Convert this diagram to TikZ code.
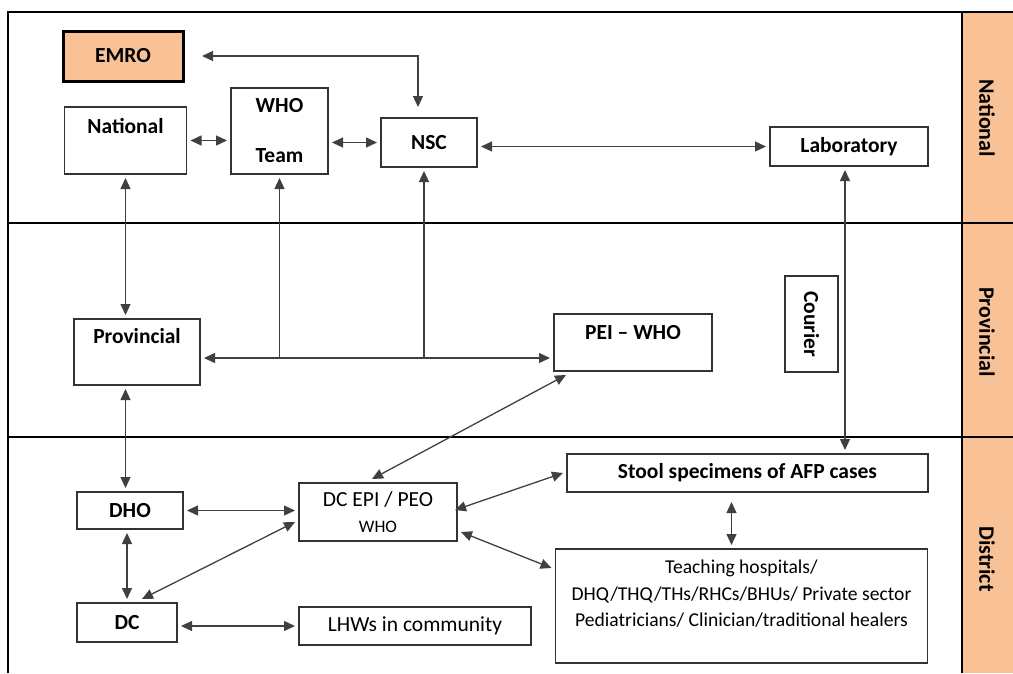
\documentclass[tikz,border=0pt]{standalone}
\usepackage{fontspec}
\setmainfont{Carlito}
\usepackage{xcolor}
\usetikzlibrary{arrows.meta, positioning, calc}
\definecolor{bandorange}{RGB}{248,193,150}

\begin{document}
\begin{tikzpicture}[
    x=1pt, y=-1pt,
    every node/.style={font=\fontsize{21.5}{25}\selectfont},
    box/.style={rectangle, draw=black!80, line width=1.1pt, inner sep=0pt, outer sep=4pt, align=center},
    bold/.style={font=\fontsize{21.5}{25}\selectfont\bfseries},
    sidelabel/.style={rotate=-90, font=\fontsize{22}{26}\selectfont\bfseries},
    arrow/.style={{Triangle[length=11pt,width=10pt]}-{Triangle[length=11pt,width=10pt]}, line width=1.3pt, draw=black!75},
    uparrow/.style={-{Triangle[length=11pt,width=10pt]}, line width=1.3pt, draw=black!75}
  ]
  \useasboundingbox (0,0) rectangle (1013,673);

  % level band on the right
  \fill[bandorange] (962,12) rectangle (1013,673);
  \draw[line width=1.1pt] (8,673) -- (8,12) -- (1013,12);
  \draw[line width=2pt] (8,223) -- (1013,223);
  \draw[line width=1.2pt] (8,437) -- (962,437);
  \draw[line width=2pt] (962,437) -- (1013,437);
  \draw[line width=2.2pt] (962,12) -- (962,673);
  \node[sidelabel] (lvlnat)  at (987,118) {National};
  \node[sidelabel] (lvlprov) at (987,332) {Provincial};
  \node[sidelabel] (lvldist) at (987,559) {District};

  % national level
  \node[box, bold, fill=bandorange, draw=black, line width=3pt, minimum width=120, minimum height=50] (emro) at (123,56) {EMRO};
  \node[box, bold, minimum width=122, minimum height=67, text height=26pt, text depth=41pt] (nat) at (125.5,140.5) {National};
  \node[box, bold, minimum width=97, minimum height=86] (who) at (279.5,131) {WHO\\[25pt]Team};
  \node[box, bold, minimum width=96, minimum height=49] (nsc) at (429,142.5) {NSC};
  \node[box, bold, minimum width=158, minimum height=39] (lab) at (849,146.5) {Laboratory};

  % provincial level
  \node[box, bold, minimum width=126, minimum height=66, text height=24pt, text depth=42pt] (prov) at (137,352) {Provincial};
  \node[box, bold, minimum width=158, minimum height=57, text height=25pt, text depth=32pt] (pei) at (633,342.5) {PEI -- WHO};
  \node[box, bold, rotate=-90, minimum width=96, minimum height=53] (courier) at (811.5,324) {Courier};

  % district level
  \node[box, bold, minimum width=106, minimum height=37] (dho) at (130,510.5) {DHO};
  \node[box, minimum width=158, minimum height=58] (dcepi) at (378,512) {DC EPI / PEO\\[1pt]{\fontsize{17.5}{20}\selectfont WHO}};
  \node[box, bold, minimum width=100, minimum height=39] (dc) at (127,622.5) {DC};
  \node[box, minimum width=232, minimum height=38] (lhw) at (415,626) {LHWs in community};
  \node[box, bold, minimum width=361, minimum height=38] (stool) at (747.5,473) {Stool specimens of AFP cases};
  \node[box, minimum width=372, minimum height=114] (teach) at (741.5,606) {};
  \node[anchor=north, align=center, inner sep=0pt, font=\fontsize{19.6}{26.5}\selectfont] (teachtxt) at ([yshift=-15pt]teach.north)
    {Teaching hospitals/\\DHQ/THQ/THs/RHCs/BHUs/ Private sector\\Pediatricians/ Clinician/traditional healers};

  % connectors
  \draw[arrow, shorten <=15pt, shorten >=7pt] (emro.east) -| ([xshift=-11pt]nsc.north);
  \draw[arrow] (nat.east) -- (nat.east -| who.west);
  \draw[arrow] (nsc.west -| who.east) -- (nsc.west);
  \draw[arrow] (lab.west -| nsc.east) -- (lab.west);
  \draw[arrow] (nat.south) -- (nat.south |- prov.north);
  \coordinate (provbus) at ([yshift=-6pt]prov.east);
  \draw[arrow] (provbus) -- (provbus -| pei.west);
  \coordinate (nscfoot) at ([xshift=-5pt]nsc.south);
  \draw[uparrow] (who.south |- provbus) -- (who.south);
  \draw[uparrow] (nscfoot |- provbus) -- (nscfoot);
  \coordinate (labcol) at ([xshift=-4pt]lab.south);
  \draw[arrow] (labcol) -- (labcol |- stool.north);
  \draw[arrow] (prov.south -| nat.south) -- (dho.north -| nat.south);
  \draw[arrow] ([xshift=16pt]pei.south west) -- ([xshift=-6pt]dcepi.north);
  \draw[arrow] (dho.east) -- (dho.east -| dcepi.west);
  \draw[arrow] (dho.south -| dc.north) -- (dc.north);
  \draw[arrow] ([xshift=15pt]dc.north) -- ([yshift=-10pt]dcepi.west);
  \draw[arrow] (dc.east |- lhw.west) -- (lhw.west);
  \draw[arrow] ([xshift=-6pt,yshift=2pt]dcepi.east) -- (stool.west);
  \draw[arrow] ([yshift=-20pt]dcepi.east) -- ([yshift=38pt]teach.west);
  \coordinate (teachtop) at ([xshift=-10pt]teach.north);
  \draw[arrow, shorten >=6pt] (teachtop) -- (teachtop |- stool.south);
\end{tikzpicture}
\end{document}
